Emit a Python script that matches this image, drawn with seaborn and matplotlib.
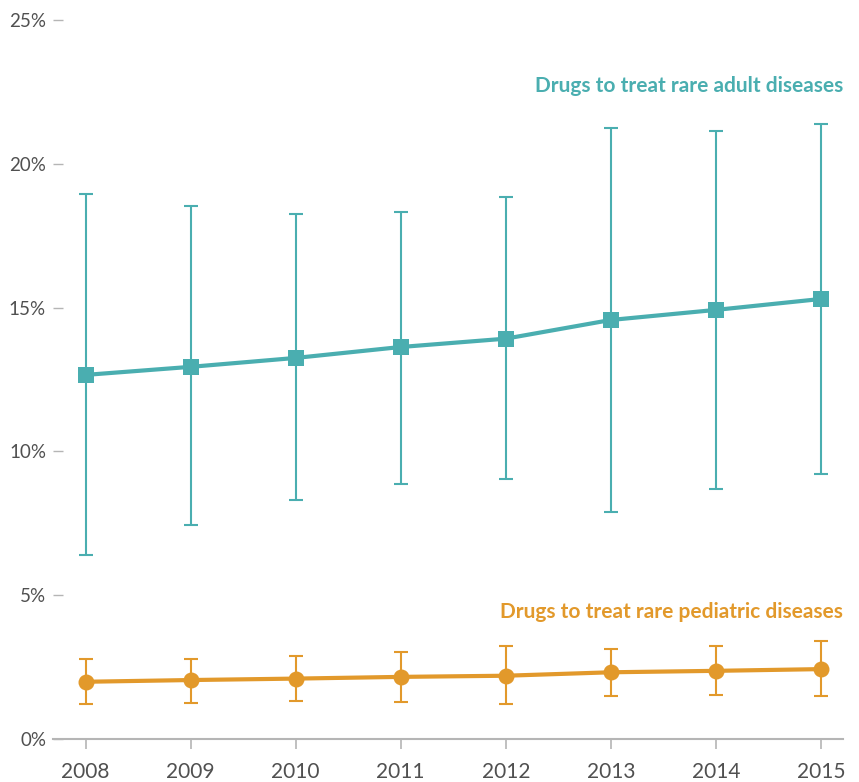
import matplotlib
matplotlib.use("Agg")
import matplotlib.pyplot as plt
import seaborn as sns
import pandas as pd

# Share of approvals (%) by year, with uncertainty ranges
years = [2008, 2009, 2010, 2011, 2012, 2013, 2014, 2015]

adult_mid = [12.66, 12.94, 13.25, 13.63, 13.92, 14.57, 14.92, 15.30]
adult_low = [6.40, 7.44, 8.31, 8.87, 9.04, 7.90, 8.71, 9.21]
adult_high = [18.96, 18.52, 18.24, 18.33, 18.84, 21.25, 21.15, 21.37]

ped_mid = [1.99, 2.05, 2.10, 2.16, 2.20, 2.32, 2.37, 2.43]
ped_low = [1.22, 1.26, 1.33, 1.29, 1.22, 1.50, 1.54, 1.50]
ped_high = [2.79, 2.79, 2.90, 3.03, 3.23, 3.13, 3.23, 3.41]

y_ticks = [0, 5, 10, 15, 20, 25]
y_tick_labels = ["0%", "5%", "10%", "15%", "20%", "25%"]

adult_label = "Drugs to treat rare adult diseases"
ped_label = "Drugs to treat rare pediatric diseases"

TEAL = "#4aaeb0"
ORANGE = "#e2992b"
TEXT = "#505050"
GRID = "#b5b5b5"

sns.set_theme(style="white")
plt.rcParams["font.family"] = ["Lato", "DejaVu Sans"]

df = pd.DataFrame({
    "year": years * 2,
    "value": adult_mid + ped_mid,
    "group": [adult_label] * len(years) + [ped_label] * len(years),
})

fig = plt.figure(figsize=(8.59, 7.82), dpi=100)
ax = fig.add_axes([53 / 859, 1 - 739 / 782, (843 - 53) / 859, (739 - 20) / 782])

# Whiskers for each series
for mid, lo, hi, col in [(adult_mid, adult_low, adult_high, TEAL),
                         (ped_mid, ped_low, ped_high, ORANGE)]:
    yerr = [[m - l for m, l in zip(mid, lo)], [h - m for m, h in zip(mid, hi)]]
    ax.errorbar(years, mid, yerr=yerr, fmt="none", ecolor=col,
                elinewidth=1.5, capsize=5, capthick=1.5, zorder=2)

sns.lineplot(data=df, x="year", y="value", hue="group", style="group",
             palette={adult_label: TEAL, ped_label: ORANGE},
             markers={adult_label: "s", ped_label: "o"},
             dashes=False, linewidth=3, markersize=11.5,
             markeredgewidth=0, legend=False, ax=ax, zorder=3)

ax.set_xlim(2007.69, 2015.21)
ax.set_ylim(0, 25)
ax.set_xticks(years)
ax.set_xticklabels([str(y) for y in years])
ax.set_yticks(y_ticks)
ax.set_yticklabels(y_tick_labels)
ax.set_xlabel("")
ax.set_ylabel("")

for side in ["top", "right", "left"]:
    ax.spines[side].set_visible(False)
ax.spines["bottom"].set_color(GRID)
ax.spines["bottom"].set_linewidth(1.5)

ax.tick_params(axis="x", direction="out", length=7.5, width=1.2, color=GRID,
               labelsize=15, labelcolor=TEXT, pad=9, bottom=True)
ax.tick_params(axis="y", direction="in", length=7.5, width=1.0, color=GRID,
               labelsize=13.5, labelcolor=TEXT, pad=5, left=True)

ax.text(2015.21, 22.7, adult_label, ha="right", va="center",
        color=TEAL, fontsize=15, fontweight="bold")
ax.text(2015.21, 4.4, ped_label, ha="right", va="center",
        color=ORANGE, fontsize=15, fontweight="bold")

fig.savefig("out.png", dpi=100)
